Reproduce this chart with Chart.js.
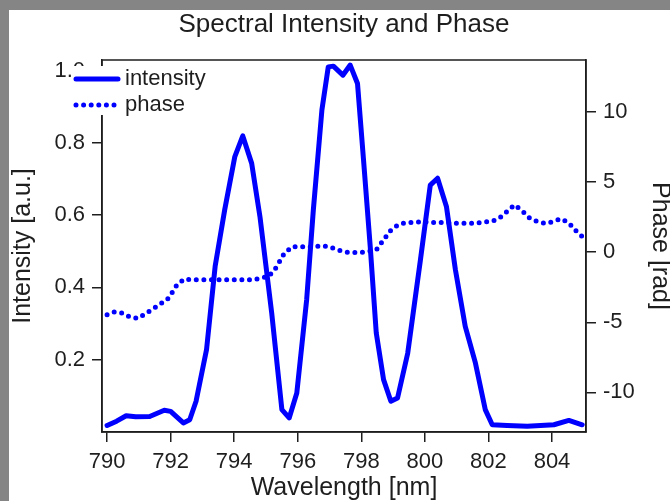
<!DOCTYPE html>
<html><head><meta charset="utf-8">
<script src="https://cdn.jsdelivr.net/npm/chart.js@4"></script>
<style>html,body{margin:0;padding:0;background:#fff}#wrap{width:670px;height:501px;position:relative}</style>
</head><body><div id="wrap"><canvas id="c" width="670" height="501"></canvas></div>
<script>
// ---- data ----
const intensityWl = [790.0, 790.3, 790.6, 790.9, 791.34, 791.8, 792.0, 792.4, 792.6, 792.8, 793.13, 793.4, 793.7, 794.02, 794.27, 794.55, 794.81, 795.18, 795.5, 795.73, 795.97, 796.28, 796.49, 796.76, 796.96, 797.12, 797.42, 797.65, 797.88, 798.07, 798.28, 798.47, 798.7, 798.93, 799.14, 799.46, 799.86, 800.17, 800.4, 800.68, 800.96, 801.27, 801.59, 801.9, 802.12, 802.59, 803.22, 804.06, 804.53, 804.95];
const intensity = [0.018, 0.03, 0.045, 0.042, 0.043, 0.06, 0.057, 0.025, 0.034, 0.085, 0.228, 0.458, 0.614, 0.762, 0.819, 0.743, 0.596, 0.329, 0.062, 0.039, 0.108, 0.366, 0.614, 0.891, 1.01, 1.012, 0.987, 1.015, 0.964, 0.752, 0.513, 0.274, 0.145, 0.085, 0.094, 0.218, 0.476, 0.683, 0.702, 0.623, 0.449, 0.292, 0.191, 0.062, 0.02, 0.018, 0.016, 0.02, 0.032, 0.02];

const phaseWl = [790.00, 790.24, 790.48, 790.73, 790.97, 791.21, 791.45, 791.69, 791.94, 792.18, 792.42, 792.66, 792.90, 793.15, 793.39, 793.63, 793.87, 794.11, 794.35, 794.60, 794.84, 795.08, 795.32, 795.56, 795.81, 796.05, 796.29, 796.53, 796.77, 797.02, 797.26, 797.50, 797.74, 797.98, 798.23, 798.47, 798.71, 798.95, 799.19, 799.44, 799.68, 799.92, 800.16, 800.40, 800.65, 800.89, 801.13, 801.37, 801.61, 801.85, 802.10, 802.34, 802.58, 802.82, 803.06, 803.31, 803.55, 803.79, 804.03, 804.27, 804.52, 804.76, 804.95];
const phase = [-4.46, -4.25, -4.34, -4.63, -4.72, -4.39, -4.04, -3.68, -3.27, -2.4, -1.92, -1.97, -1.97, -1.97, -1.97, -1.97, -1.97, -1.97, -1.97, -1.97, -1.85, -1.74, -1.1, -0.15, 0.38, 0.4, 0.36, 0.38, 0.45, 0.36, 0.15, 0.0, -0.03, -0.03, 0.06, 0.15, 0.9, 1.62, 1.98, 2.11, 2.11, 2.18, 2.11, 2.11, 2.11, 2.06, 2.06, 2.06, 2.06, 2.16, 2.18, 2.42, 2.89, 3.37, 2.95, 2.4, 2.17, 2.04, 2.17, 2.38, 2.1, 1.5, 1.11];

const xTicks = [790, 792, 794, 796, 798, 800, 802, 804];
const leftTicks = [0.2, 0.4, 0.6, 0.8, 1.0];
const rightTicks = [-10, -5, 0, 5, 10];
const seriesNames = ['intensity', 'phase'];
const titleText = 'Spectral Intensity and Phase';
const xTitle = 'Wavelength [nm]';
const yTitle = 'Intensity [a.u.]';
const y2Title = 'Phase [rad]';

// ---- styling ----
const FONT = '"Liberation Sans", Arial, Helvetica, sans-serif';
const INK = '#1e1e1e';
const BLUE = '#0000ff';
const DOTS = [0, 7.6];

const framePlugin = {
  id: 'frame',
  beforeDraw(chart) {
    const ctx = chart.ctx;
    ctx.save();
    ctx.fillStyle = '#858585';
    ctx.fillRect(0, 0, chart.width, chart.height);
    ctx.fillStyle = '#ffffff';
    ctx.fillRect(9, 10, chart.width - 9, chart.height - 10);
    ctx.restore();
  },
  beforeDatasetsDraw(chart) {
    const { ctx, chartArea: a } = chart;
    ctx.save();
    ctx.strokeStyle = INK;
    ctx.lineWidth = 1.5;
    ctx.strokeRect(a.left, a.top, a.right - a.left, a.bottom - a.top);
    ctx.restore();
  },
  afterDraw(chart) {
    const { ctx, chartArea: a } = chart;
    const bx = a.left - 30, by = a.top + 6;
    ctx.save();
    ctx.fillStyle = '#ffffff';
    ctx.fillRect(bx, by, 140, 49);
    // intensity sample
    ctx.strokeStyle = BLUE;
    ctx.lineWidth = 5;
    ctx.lineCap = 'round';
    ctx.beginPath();
    ctx.moveTo(a.left - 26, a.top + 19);
    ctx.lineTo(a.left + 16, a.top + 19);
    ctx.stroke();
    // phase sample
    ctx.setLineDash(DOTS);
    ctx.beginPath();
    ctx.moveTo(a.left - 26, a.top + 45);
    ctx.lineTo(a.left + 16, a.top + 45);
    ctx.stroke();
    ctx.setLineDash([]);
    ctx.fillStyle = INK;
    ctx.font = '22px ' + FONT;
    ctx.textBaseline = 'alphabetic';
    ctx.textAlign = 'left';
    ctx.fillText(seriesNames[0], a.left + 23, a.top + 25);
    ctx.fillText(seriesNames[1], a.left + 23, a.top + 51);
    ctx.restore();
  }
};

const tickFont = { family: FONT, size: 22 };
const titleFont = { family: FONT, size: 25, lineHeight: 1 };

new Chart(document.getElementById('c'), {
  type: 'scatter',
  data: {
    datasets: [
      {
        label: seriesNames[0],
        data: intensityWl.map((x, i) => ({ x: x, y: intensity[i] })),
        yAxisID: 'y',
        showLine: true,
        borderColor: BLUE,
        backgroundColor: BLUE,
        borderWidth: 5,
        borderJoinStyle: 'round',
        borderCapStyle: 'round',
        pointRadius: 0,
        tension: 0
      },
      {
        label: seriesNames[1],
        data: phaseWl.map((x, i) => ({ x: x, y: phase[i] })),
        yAxisID: 'y2',
        showLine: true,
        borderColor: BLUE,
        backgroundColor: BLUE,
        borderWidth: 5,
        borderDash: DOTS,
        borderCapStyle: 'round',
        borderJoinStyle: 'round',
        pointRadius: 0,
        tension: 0
      }
    ]
  },
  options: {
    responsive: false,
    animation: false,
    devicePixelRatio: 1,
    layout: { padding: 0 },
    plugins: {
      legend: { display: false },
      tooltip: { enabled: false },
      title: {
        display: true,
        text: titleText,
        color: INK,
        font: { family: FONT, size: 26, weight: 'normal', lineHeight: 1 },
        padding: { top: 12, bottom: 22 },
        fullSize: false
      }
    },
    scales: {
      x: {
        type: 'linear',
        position: 'bottom',
        min: 789.84,
        max: 805.07,
        afterBuildTicks: s => { s.ticks = xTicks.map(v => ({ value: v })); },
        afterFit: s => { s.height = 69; },
        grid: { display: true, drawOnChartArea: false, drawTicks: true, tickLength: 10, color: INK, lineWidth: 1.5 },
        border: { display: true, color: INK, width: 1.5 },
        ticks: { font: tickFont, color: INK, padding: 7, maxRotation: 0, autoSkip: false, callback: v => String(v) },
        title: { display: true, text: xTitle, color: INK, font: titleFont, padding: { top: 0, bottom: 0.5 } }
      },
      y: {
        type: 'linear',
        position: 'left',
        min: 0,
        max: 1.029,
        afterBuildTicks: s => { s.ticks = leftTicks.map(v => ({ value: v })); },
        afterFit: s => { s.width = 102; },
        grid: { display: true, drawOnChartArea: false, drawTicks: true, tickLength: 10, color: INK, lineWidth: 1.5 },
        border: { display: true, color: INK, width: 1.5 },
        ticks: { font: tickFont, color: INK, padding: 7, autoSkip: false, callback: v => Number(v).toFixed(1) },
        title: { display: true, text: yTitle, color: INK, font: titleFont, padding: { top: 10.5, bottom: 0 } }
      },
      y2: {
        type: 'linear',
        position: 'right',
        min: -12.82,
        max: 13.69,
        afterBuildTicks: s => { s.ticks = rightTicks.map(v => ({ value: v })); },
        afterFit: s => { s.width = 84; },
        grid: { display: true, drawOnChartArea: false, drawTicks: true, tickLength: 10, color: INK, lineWidth: 1.5 },
        border: { display: true, color: INK, width: 1.5 },
        ticks: { font: tickFont, color: INK, padding: 7, autoSkip: false, callback: v => String(v) },
        title: { display: true, text: y2Title, color: INK, font: titleFont, padding: { top: -2.5, bottom: 0 } }
      }
    }
  },
  plugins: [framePlugin]
});
</script>
</body></html>
